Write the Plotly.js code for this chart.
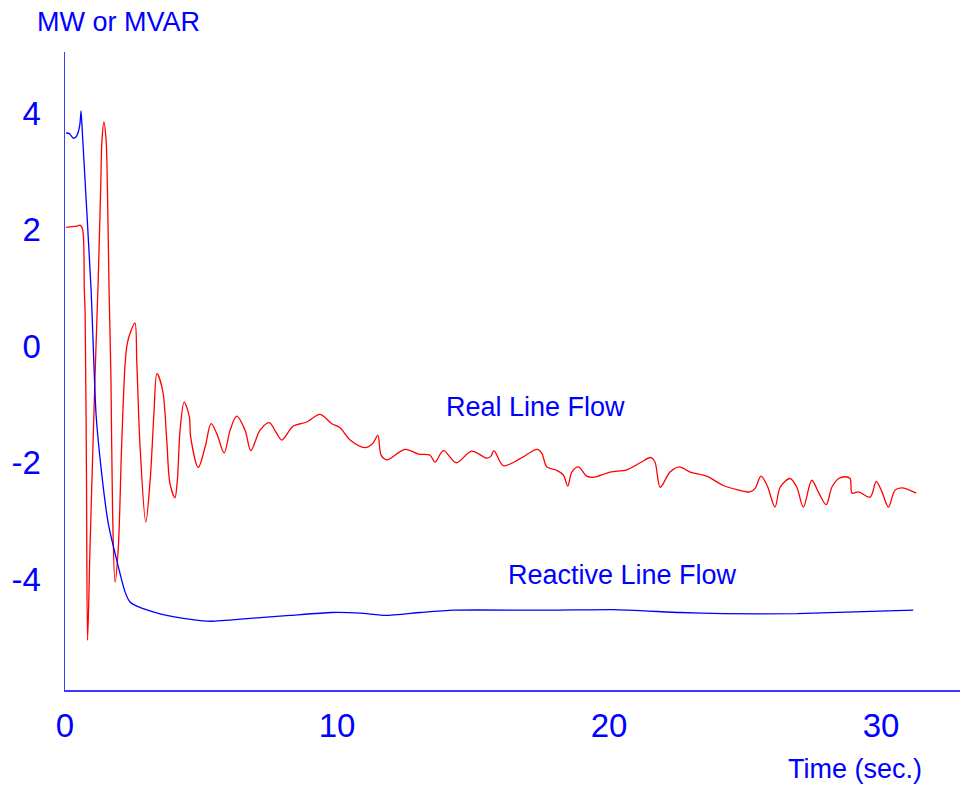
<!DOCTYPE html>
<html>
<head>
<meta charset="utf-8">
<script src="https://cdn.plot.ly/plotly-3.0.1.min.js"></script>
<style>html,body{margin:0;padding:0;background:#fff;}#chart{width:961px;height:790px;}</style>
</head>
<body>
<div id="chart"></div>
<script>
// Real line flow (MW) - time in seconds
const realTime = [0.04,0.43,0.55,0.64,0.71,0.74,0.79,0.83,0.92,1.10,1.22,1.31,1.36,1.43,1.51,1.56,1.62,1.69,1.75,1.84,1.96,2.08,2.21,2.29,2.43,2.57,2.64,2.76,2.97,3.13,3.27,3.38,3.59,3.74,3.86,4.04,4.13,4.23,4.38,4.57,4.62,4.90,5.15,5.37,5.58,5.85,6.07,6.31,6.62,6.83,7.17,7.51,7.76,7.97,8.39,8.89,9.375,9.81,10.11,10.48,11.03,11.31,11.50,11.62,11.83,12.50,12.99,13.42,13.60,13.91,14.38,14.95,15.50,15.65,15.77,16.11,16.73,17.36,17.53,17.71,18.08,18.32,18.48,18.63,18.87,19.18,19.42,20.04,20.65,21.14,21.54,21.69,21.88,22.24,22.58,22.98,23.59,24.20,24.70,25.18,25.37,25.58,25.81,26.10,26.29,26.65,26.90,27.14,27.45,27.69,27.98,28.19,28.44,28.68,28.86,28.93,29.17,29.60,29.82,30.03,30.27,30.51,30.76,31.29];
const realFlow = [2.04,2.06,2.08,2.02,0.96,0.56,-2.30,-5.05,-3.45,-0.58,1.13,2.68,3.54,3.85,3.54,2.68,0.96,-0.58,-2.87,-4.05,-3.45,-1.73,-0.30,0.05,0.27,0.40,-0.29,-1.73,-3.02,-2.30,-1.15,-0.47,-0.76,-1.61,-2.36,-2.60,-2.30,-1.44,-0.96,-1.21,-1.56,-2.08,-1.73,-1.33,-1.50,-1.83,-1.44,-1.20,-1.44,-1.79,-1.44,-1.31,-1.48,-1.61,-1.37,-1.30,-1.17,-1.33,-1.40,-1.61,-1.74,-1.67,-1.53,-1.87,-1.95,-1.77,-1.85,-1.87,-1.99,-1.79,-2.00,-1.80,-1.92,-1.89,-1.79,-2.05,-1.93,-1.77,-1.84,-2.07,-2.13,-2.21,-2.40,-2.16,-2.07,-2.23,-2.25,-2.16,-2.12,-2.00,-1.91,-1.99,-2.42,-2.16,-2.07,-2.16,-2.23,-2.39,-2.46,-2.50,-2.44,-2.23,-2.39,-2.76,-2.42,-2.27,-2.42,-2.76,-2.30,-2.50,-2.72,-2.42,-2.27,-2.24,-2.27,-2.52,-2.50,-2.59,-2.32,-2.50,-2.76,-2.47,-2.43,-2.52];

// Reactive line flow (MVAR)
const reactTime = [0.04,0.16,0.31,0.40,0.49,0.55,0.59,0.64,0.96,1.14,1.35,1.59,1.90,2.21,2.39,2.64,3.125,3.74,4.35,5.38,6.80,8.27,9.78,10.85,11.80,13.05,14.28,17.89,20.14,22.61,24.19,26.90,31.18];
const reactFlow = [3.66,3.65,3.57,3.59,3.68,3.82,4.04,3.65,0.96,-1.16,-2.19,-3.04,-3.67,-4.22,-4.39,-4.46,-4.54,-4.62,-4.67,-4.72,-4.67,-4.62,-4.57,-4.58,-4.62,-4.57,-4.53,-4.53,-4.52,-4.57,-4.59,-4.59,-4.53];

const xTicks = [0,10,20,30];
const yTicks = [-4,-2,0,2,4];
const yTickText = ['-4','-2','0','2','4'];

const FONT = '"Liberation Sans", Arial, sans-serif';

const traces = [
  {x: realTime, y: realFlow, type: 'scatter', mode: 'lines',
   line: {color: '#ff0000', width: 1.3, shape: 'spline', smoothing: 0.9}, hoverinfo: 'skip'},
  {x: reactTime, y: reactFlow, type: 'scatter', mode: 'lines',
   line: {color: '#0000ff', width: 1.3, shape: 'spline', smoothing: 0.5}, hoverinfo: 'skip'}
];

const layout = {
  width: 961, height: 790,
  paper_bgcolor: '#ffffff', plot_bgcolor: '#ffffff',
  showlegend: false,
  margin: {l: 65, r: 1, t: 52, b: 100},
  font: {family: FONT, color: '#0000ff'},
  title: {text: 'MW or MVAR', x: 37/961, xanchor: 'left', xref: 'container',
          y: 1 - 22/790, yanchor: 'middle', yref: 'container',
          font: {family: FONT, size: 27, color: '#0000ff'}},
  xaxis: {range: [0, 32.9], tickvals: xTicks, ticks: '', showgrid: false, zeroline: false,
          showline: true, linecolor: '#3a3aff', linewidth: 1.5,
          tickfont: {family: FONT, size: 33, color: '#0000ff'}, ticklabelstandoff: 6},
  yaxis: {range: [-5.9, 5.05], tickvals: yTicks, ticktext: yTickText, ticks: '', showgrid: false, zeroline: false,
          showline: true, linecolor: '#3a3aff', linewidth: 1.5,
          tickfont: {family: FONT, size: 33, color: '#0000ff'}, ticklabelstandoff: 16},
  annotations: [
    {text: 'Real Line Flow', x: 17.28, y: -1.05, xref: 'x', yref: 'y', showarrow: false,
     xanchor: 'center', yanchor: 'middle', font: {family: FONT, size: 27, color: '#0000ff'}},
    {text: 'Reactive Line Flow', x: 20.51, y: -3.93, xref: 'x', yref: 'y', showarrow: false,
     xanchor: 'center', yanchor: 'middle', font: {family: FONT, size: 27, color: '#0000ff'}},
    {text: 'Time (sec.)', x: (855-65)/895, y: (690-769)/638, xref: 'paper', yref: 'paper', showarrow: false,
     xanchor: 'center', yanchor: 'middle', font: {family: FONT, size: 27, color: '#0000ff'}}
  ]
};

Plotly.newPlot('chart', traces, layout, {displayModeBar: false, staticPlot: true});
</script>
</body>
</html>
